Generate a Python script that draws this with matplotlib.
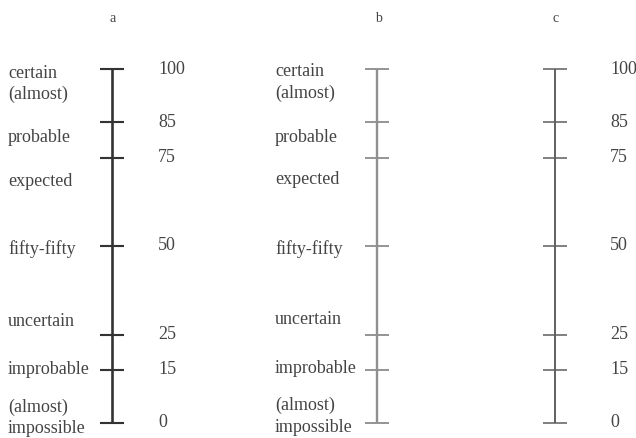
import matplotlib
matplotlib.use("Agg")
import matplotlib.pyplot as plt

# data
scale_names = ["a", "b", "c"]
tick_values = [100, 85, 75, 50, 25, 15, 0]
tick_labels = ["100", "85", "75", "50", "25", "15", "0"]
verbal_labels = ["certain", "(almost)", "probable", "expected", "fifty-fifty",
                 "uncertain", "improbable", "(almost)", "impossible"]

# layout (pixel-ish positions)
W, H = 636, 439
y0_px, y100_px = 424, 70          # pixel rows (from top) of 0 and 100
ppu = (y0_px - y100_px) / 100.0

def v2y(v):
    return H - y0_px + v * ppu

def py2y(py):
    return H - py

line_x = [112, 377, 555]
half_w = 12
line_colors = ["#333333", "#909090", "#606060"]
line_widths = [1.9, 1.7, 1.4]
show_numbers = [True, False, True]
number_x = [158, None, 610]
word_x = [8, 275, None]
word_py_a = [73, 94, 137, 182, 249, 322, 370, 407, 429]
word_py_b = [71, 93, 137, 180, 249, 320, 369, 405, 428]
word_pys = [word_py_a, word_py_b, None]
title_py = 18
text_color = "#444444"
font = "Liberation Serif"
fs = 13

fig = plt.figure(figsize=(W / 100, H / 100), dpi=100)
ax = fig.add_axes([0, 0, 1, 1])
ax.set_xlim(0, W)
ax.set_ylim(0, H)
ax.axis("off")

for i, name in enumerate(scale_names):
    x = line_x[i]
    ax.plot([x, x], [v2y(min(tick_values)), v2y(max(tick_values))],
            color=line_colors[i], lw=line_widths[i], solid_capstyle="butt")
    for v in tick_values:
        ax.plot([x - half_w, x + half_w], [v2y(v), v2y(v)],
                color=line_colors[i], lw=line_widths[i] * 0.8, solid_capstyle="butt")
    ax.text(x + 1, py2y(title_py), name, ha="center", va="center",
            fontsize=fs - 3, family=font, color=text_color)
    if show_numbers[i]:
        for v, lab in zip(tick_values, tick_labels):
            ax.text(number_x[i], v2y(v) + 1, lab, ha="left", va="center",
                    fontsize=fs, family=font, color=text_color)
    if word_pys[i] is not None:
        for lab, py in zip(verbal_labels, word_pys[i]):
            ax.text(word_x[i], py2y(py), lab, ha="left", va="center",
                    fontsize=fs, family=font, color=text_color)

fig.savefig("out.png", dpi=100)
